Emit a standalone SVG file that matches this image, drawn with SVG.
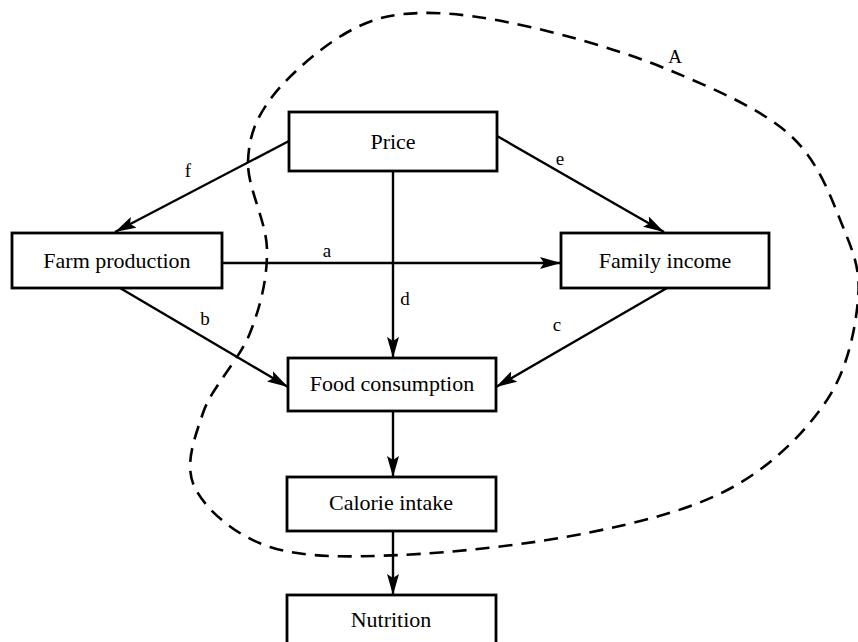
<svg xmlns="http://www.w3.org/2000/svg" width="858" height="642" viewBox="0 0 858 642">
<style>
.box{fill:#fff;stroke:#000;stroke-width:2.8}
.t{font-family:"Liberation Serif","DejaVu Serif",serif;font-size:22px;fill:#000;text-anchor:middle}
.lbl{font-family:"Liberation Serif","DejaVu Serif",serif;font-size:19px;fill:#000;text-anchor:middle}
.ln{stroke:#000;stroke-width:2.4;fill:none}
.dash{stroke:#000;stroke-width:2.6;fill:none;stroke-dasharray:14 9}
</style>
<defs>
<marker id="ah" markerUnits="userSpaceOnUse" markerWidth="22" markerHeight="12" refX="21" refY="6" orient="auto">
<path d="M0,0 L21,6 L0,12 L4,6 z" fill="#000"/>
</marker>
</defs>
<rect width="858" height="642" fill="#fff"/>
<g id="region-A">
<path class="dash" d="M248 162 C248.8 136.5,255.7 118.5,272 97 C288.3 75.5,321.3 47,346 33 C370.7 19,389.3 14,420 13 C450.7 12,488.5 17.5,530 27 C571.5 36.5,625.7 52,669 70 C712.3 88,761 108.8,790 135 C819 161.2,831.7 199.5,843 227 C854.3 254.5,860.7 271.2,858 300 C855.3 328.8,847.8 368.8,827 400 C806.2 431.2,773 464.8,733 487 C693 509.2,642.5 521.7,587 533 C531.5 544.3,452.8 552.7,400 555 C347.2 557.3,303.8 557.8,270 547 C236.2 536.2,206.2 510.3,195 488 C183.8 465.7,194.2 439.2,203 413 C211.8 386.8,239.3 360.2,250 333 C260.7 305.8,267.3 278.5,267 250 C266.7 221.5,247.2 187.5,248 162 Z"/>
<text class="lbl" x="675" y="63">A</text>
</g>
<g id="connectors">
<line class="ln" x1="289" y1="141" x2="115" y2="232" marker-end="url(#ah)"/>
<line class="ln" x1="497" y1="136" x2="664" y2="232" marker-end="url(#ah)"/>
<line class="ln" x1="222" y1="263" x2="561" y2="263" marker-end="url(#ah)"/>
<line class="ln" x1="393" y1="171" x2="393" y2="358" marker-end="url(#ah)"/>
<line class="ln" x1="120" y1="288" x2="288" y2="387" marker-end="url(#ah)"/>
<line class="ln" x1="667" y1="288" x2="496" y2="387" marker-end="url(#ah)"/>
<line class="ln" x1="393" y1="411" x2="393" y2="477" marker-end="url(#ah)"/>
<line class="ln" x1="393" y1="531" x2="393" y2="595" marker-end="url(#ah)"/>
<text class="lbl" x="188" y="177">f</text>
<text class="lbl" x="560" y="165">e</text>
<text class="lbl" x="327" y="257">a</text>
<text class="lbl" x="405" y="305">d</text>
<text class="lbl" x="205" y="325">b</text>
<text class="lbl" x="557" y="331">c</text>
</g>
<g id="price"><rect class="box" x="289" y="112" width="208" height="59"/><text class="t" x="393" y="149">Price</text></g>
<g id="farm-production"><rect class="box" x="12" y="233" width="210" height="55"/><text class="t" x="117" y="268">Farm production</text></g>
<g id="family-income"><rect class="box" x="561" y="233" width="208" height="55"/><text class="t" x="665" y="268">Family income</text></g>
<g id="food-consumption"><rect class="box" x="288" y="358" width="208" height="53"/><text class="t" x="392" y="391">Food consumption</text></g>
<g id="calorie-intake"><rect class="box" x="287" y="477" width="209" height="54"/><text class="t" x="391" y="510">Calorie intake</text></g>
<g id="nutrition"><rect class="box" x="287" y="595" width="209" height="70"/><text class="t" x="391" y="627">Nutrition</text></g>
</svg>
